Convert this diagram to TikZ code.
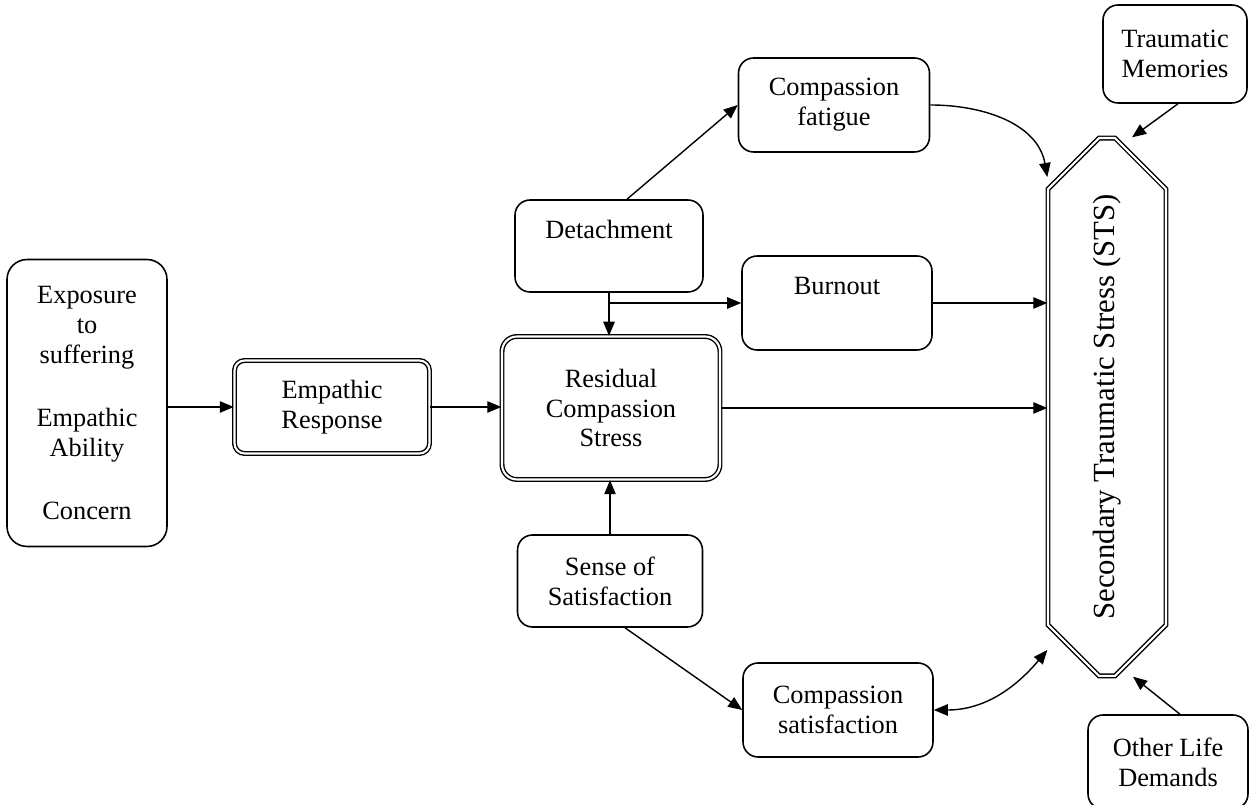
\documentclass[tikz,border=0pt]{standalone}
\usepackage{fontspec}
\setmainfont{Liberation Serif}
\usetikzlibrary{shapes,arrows.meta,calc}

\begin{document}
\begin{tikzpicture}[x=0.02cm,y=0.02cm,
    font=\fontsize{15}{17}\selectfont,
    box/.style={draw,line width=0.9pt,rounded corners=0.3cm,align=center,inner sep=2pt},
    dbox/.style={box,double,double distance=1.2pt,line width=0.8pt},
    arr/.style={line width=0.8pt,-{Triangle[length=8pt,width=6.5pt]}}]
        \useasboundingbox (0,0) rectangle (1253,804);
        \node[box,rounded corners=0.4cm,minimum width=3.2cm,minimum height=5.74cm] (expo) at (87,401)
            {Exposure\\to\\suffering\\[19pt]Empathic\\Ability\\[19pt]Concern};
        \node[dbox,rounded corners=0.2cm,minimum width=3.9cm,minimum height=1.86cm] (empresp) at (332,397) {Empathic\\Response};
        \node[dbox,minimum width=4.36cm,minimum height=2.86cm] (residual) at (611,396) {Residual\\Compassion\\Stress};
        \node[box,minimum width=3.76cm,minimum height=1.84cm] (detach) at (609,558) {Detachment\\[2pt]~};
        \node[box,minimum width=3.82cm,minimum height=1.88cm] (cfat) at (834,699) {Compassion\\fatigue};
        \node[box,minimum width=3.8cm,minimum height=1.88cm] (burn) at (837,501) {Burnout\\[2pt]~};
        \node[box,minimum width=3.7cm,minimum height=1.84cm] (sense) at (610,223) {Sense of\\Satisfaction};
        \node[box,minimum width=3.8cm,minimum height=1.88cm] (csat) at (838,94) {Compassion\\satisfaction};
        \node[box,minimum width=2.88cm,minimum height=1.96cm] (tmem) at (1175,750) {Traumatic\\Memories};
        \node[box,minimum width=3.2cm,minimum height=1.88cm] (olife) at (1168,42) {Other Life\\Demands};
        % STS octagon
        \node[chamfered rectangle,draw,double,double distance=1.2pt,line width=0.8pt,
            chamfered rectangle xsep=0.74cm,chamfered rectangle ysep=0.76cm,
            minimum width=2.36cm,minimum height=10.76cm,inner sep=0pt] (sts) at (1107,397)
            {\rotatebox{90}{\fontsize{17.5}{20}\selectfont Secondary Traumatic Stress (STS)}};
        \draw[arr] (expo.east |- empresp.west) -- (empresp.west);
        \draw[arr] (empresp.east) -- (empresp.east -| residual.west);
        \draw[arr] (residual.east) -- (residual.east -| sts.west);
        \draw[arr] (detach.south) -- (detach.south |- residual.north);
        \draw[arr] (detach.south |- burn.west) -- (burn.west);
        \draw[arr] ($(detach.north)+(18,0)$) -- (cfat.west);
        \draw[arr] (cfat.east) to[out=0,in=100] ($(sts.west)+(0,230)$);
        \draw[arr] (burn.east) -- (burn.east -| sts.west);
        \draw[arr] (sense.north) -- (sense.north |- residual.south);
        \draw[arr] ($(sense.south)+(15,0)$) -- (csat.west);
        \draw[line width=0.8pt,{Triangle[length=8pt,width=6.5pt]}-{Triangle[length=8pt,width=6.5pt]}]
            (csat.east) to[out=0,in=230] ($(sts.west)+(0,-243)$);
        \draw[arr] ($(tmem.south)+(3,0)$) -- ($(sts.north)+(25,0)$);
        \draw[arr] ($(olife.north)+(12,0)$) -- ($(sts.south)+(26,0)$);
        % \draw[thin,gray!40] (0,0) grid[step=50] (1253,804);
\end{tikzpicture}
\end{document}
